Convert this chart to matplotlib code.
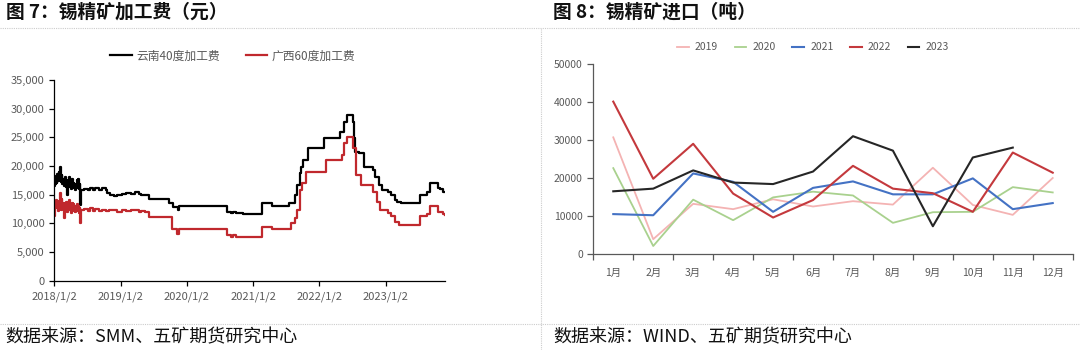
import matplotlib.pyplot as plt
import matplotlib.dates as mdates
from matplotlib.lines import Line2D
from matplotlib.ticker import FuncFormatter
import numpy as np
import pandas as pd

plt.rcParams['font.family'] = ['Noto Sans CJK SC', 'DejaVu Sans']

# 锡精矿加工费：云南40度 / 广西60度 (元/吨)，按变动日期记录
yn_dates = [
    '2018-01-02', '2018-01-05', '2018-01-09', '2018-01-12', '2018-01-16', '2018-01-19',
    '2018-01-23', '2018-01-26', '2018-01-30', '2018-02-02', '2018-02-06', '2018-02-09',
    '2018-02-13', '2018-02-16', '2018-02-23', '2018-02-27', '2018-03-02', '2018-03-06',
    '2018-03-09', '2018-03-13', '2018-03-16', '2018-03-20', '2018-03-23', '2018-03-27',
    '2018-03-30', '2018-04-03', '2018-04-10', '2018-04-13', '2018-04-17', '2018-04-20',
    '2018-04-24', '2018-04-27', '2018-05-04', '2018-05-08', '2018-05-11', '2018-05-15',
    '2018-05-18', '2018-05-22', '2018-05-25', '2018-05-29', '2018-06-15', '2018-07-06',
    '2018-07-20', '2018-08-03', '2018-08-17', '2018-09-07', '2018-09-21', '2018-10-12',
    '2018-10-19', '2018-11-05', '2018-11-29', '2018-12-14', '2019-01-11', '2019-02-01',
    '2019-03-01', '2019-03-22', '2019-04-12', '2019-04-26', '2019-06-10', '2019-09-27',
    '2019-10-20', '2019-11-14', '2019-11-22', '2020-08-11', '2020-09-01', '2020-09-15',
    '2020-09-29', '2020-11-07', '2021-02-21', '2021-04-17', '2021-07-17', '2021-08-19',
    '2021-09-02', '2021-09-20', '2021-09-24', '2021-10-05', '2021-10-30', '2022-01-30',
    '2022-04-28', '2022-05-19', '2022-06-06', '2022-07-05', '2022-07-12', '2022-07-19',
    '2022-08-11', '2022-09-05', '2022-10-23', '2022-11-06', '2022-11-25', '2022-12-16',
    '2023-01-16', '2023-02-03', '2023-02-21', '2023-03-07', '2023-03-28', '2023-07-09',
    '2023-08-18', '2023-09-06', '2023-10-16', '2023-10-30', '2023-11-14', '2023-11-24',
]
yn_vals = [
    16500, 17800, 16800, 18200, 17000, 18600, 17400, 19000, 17600, 19800, 18000, 17200,
    18400, 16900, 17800, 16600, 18000, 16400, 17600, 15000, 17400, 16300, 18000, 16600,
    17200, 16000, 17800, 16400, 17000, 16200, 16800, 15800, 16200, 17500, 16600, 17800,
    16000, 16900, 13200, 15800, 16000, 15800, 16100, 15900, 16100, 15900, 16200, 15900,
    15300, 15000, 14700, 14900, 15100, 15300, 15100, 15400, 15200, 15000, 14200, 13600,
    12800, 12300, 13000, 12000, 11800, 12000, 11800, 11700, 13500, 13000, 13500, 14900,
    16700, 18800, 19900, 21000, 23100, 24900, 26000, 27700, 28900, 27700, 24900, 22500,
    22200, 19900, 19300, 18100, 16700, 15800, 15400, 14900, 14100, 13700, 13600, 14900,
    15400, 17000, 16200, 16000, 15500, 15400,
]

gx_dates = [
    '2018-01-02', '2018-01-05', '2018-01-09', '2018-01-12', '2018-01-16', '2018-01-19',
    '2018-01-23', '2018-01-26', '2018-01-30', '2018-02-02', '2018-02-06', '2018-02-09',
    '2018-02-13', '2018-02-16', '2018-02-23', '2018-02-27', '2018-03-02', '2018-03-06',
    '2018-03-09', '2018-03-13', '2018-03-16', '2018-03-20', '2018-03-23', '2018-03-27',
    '2018-03-30', '2018-04-03', '2018-04-10', '2018-04-13', '2018-04-17', '2018-04-20',
    '2018-04-24', '2018-04-27', '2018-05-04', '2018-05-08', '2018-05-11', '2018-05-15',
    '2018-05-18', '2018-05-22', '2018-05-25', '2018-05-29', '2018-06-15', '2018-07-06',
    '2018-07-20', '2018-08-03', '2018-08-17', '2018-09-07', '2018-09-21', '2018-10-12',
    '2018-11-02', '2018-12-14', '2019-01-11', '2019-02-01', '2019-03-01', '2019-04-12',
    '2019-04-26', '2019-05-17', '2019-06-10', '2019-10-15', '2019-11-10', '2019-11-22',
    '2020-08-11', '2020-09-01', '2020-09-15', '2020-09-29', '2021-02-21', '2021-04-17',
    '2021-07-31', '2021-08-19', '2021-09-02', '2021-09-20', '2021-09-27', '2021-10-22',
    '2022-02-10', '2022-05-05', '2022-05-19', '2022-06-06', '2022-07-05', '2022-07-23',
    '2022-08-18', '2022-10-23', '2022-11-18', '2022-12-02', '2023-01-16', '2023-01-30',
    '2023-02-21', '2023-03-17', '2023-03-28', '2023-07-09', '2023-08-18', '2023-09-06',
    '2023-10-16', '2023-11-14', '2023-11-24',
]
gx_vals = [
    11300, 13800, 12600, 14000, 12800, 13200, 12200, 13900, 12500, 15300, 13000, 12400,
    14200, 12800, 13600, 11000, 13200, 12400, 13800, 12000, 13500, 12600, 14000, 12300,
    13200, 11800, 13600, 12500, 13400, 12200, 13000, 12000, 12600, 13300, 12200, 13000,
    11800, 12600, 10000, 12300, 12500, 12200, 12600, 12200, 12500, 12100, 12400, 12100,
    12300, 12000, 12400, 12100, 12300, 12000, 12200, 11900, 11100, 9000, 8200, 9000,
    8000, 7600, 8000, 7700, 9400, 9000, 10000, 10900, 12300, 15800, 17000, 19000,
    21000, 22000, 24100, 25100, 23100, 18400, 16700, 15500, 13800, 12300, 11800, 11200,
    10300, 9700, 9800, 11200, 11600, 13000, 12000, 11600, 11500,
]

# 锡精矿进口量 (吨)
months = ['1月', '2月', '3月', '4月', '5月', '6月', '7月', '8月', '9月', '10月', '11月', '12月']
imp_2019 = [30700, 3900, 13200, 11800, 14400, 12500, 13900, 13000, 22700, 12900, 10300, 20000]
imp_2020 = [22600, 2100, 14300, 8900, 14900, 16400, 15400, 8200, 11000, 11100, 17600, 16200]
imp_2021 = [10500, 10200, 21200, 19000, 11100, 17400, 19100, 15700, 15700, 19900, 11800, 13400]
imp_2022 = [40100, 19800, 29000, 15900, 9600, 14200, 23200, 17200, 16000, 11100, 26700, 21400]
imp_2023 = [16500, 17200, 22000, 18800, 18400, 21700, 31000, 27200, 7300, 25400, 28000]

gray = '#595959'
fig = plt.figure(figsize=(10.8, 3.5), dpi=100)

# 标题、分隔线、数据来源
fig.text(0.006, 0.965, '图 7：锡精矿加工费（元）', fontsize=13.5, fontweight='bold',
         va='center', ha='left', color='#111111')
fig.text(0.512, 0.965, '图 8：锡精矿进口（吨）', fontsize=13.5, fontweight='bold',
         va='center', ha='left', color='#111111')
fig.text(0.005, 0.037, '数据来源：SMM、五矿期货研究中心', fontsize=13,
         va='center', ha='left', color='#111111')
fig.text(0.512, 0.037, '数据来源：WIND、五矿期货研究中心', fontsize=13,
         va='center', ha='left', color='#111111')
for y in (1 - 27.5 / 350, 1 - 324 / 350):
    fig.add_artist(Line2D([0, 1], [y, y], transform=fig.transFigure, color='#cccccc',
                          lw=0.8, ls=(0, (1, 1))))
fig.add_artist(Line2D([541 / 1080, 541 / 1080], [0, 1 - 27.5 / 350], transform=fig.transFigure,
                      color='#cccccc', lw=0.8, ls=(0, (1, 1))))

# 左图：加工费
ax1 = fig.add_axes([54.3 / 1080, 1 - 280.7 / 350, (445 - 54.3) / 1080, (280.7 - 80) / 350])
ax1.plot(pd.to_datetime(yn_dates), yn_vals, drawstyle='steps-post', color='#000000', lw=1.6,
         label='云南40度加工费')
ax1.plot(pd.to_datetime(gx_dates), gx_vals, drawstyle='steps-post', color='#c0282d', lw=1.6,
         label='广西60度加工费')
ax1.set_ylim(0, 35000)
ax1.set_yticks(np.arange(0, 35001, 5000))
ax1.yaxis.set_major_formatter(FuncFormatter(lambda v, p: f'{int(v):,}'))
ax1.set_xlim(pd.Timestamp('2018-01-02'), pd.Timestamp('2023-11-26'))
ax1.set_xticks(pd.to_datetime(['2018-01-02', '2019-01-02', '2020-01-02', '2021-01-02',
                               '2022-01-02', '2023-01-02']))
ax1.xaxis.set_major_formatter(FuncFormatter(
    lambda v, p: '{0.year}/{0.month}/{0.day}'.format(mdates.num2date(v))))
for s in ('top', 'right'):
    ax1.spines[s].set_visible(False)
for s in ('left', 'bottom'):
    ax1.spines[s].set_color('#000000')
    ax1.spines[s].set_linewidth(0.9)
ax1.tick_params(axis='both', labelsize=8, colors='#000000', labelcolor=gray, length=3.5, width=0.9)
ax1.tick_params(axis='x', pad=4)
ax1.legend(loc='center', bbox_to_anchor=(233 / 1080, 1 - 56 / 350), bbox_transform=fig.transFigure,
           ncol=2, frameon=False, fontsize=8.5, handlelength=1.8, columnspacing=2.2,
           handletextpad=0.4, labelcolor=gray)

# 右图：进口量
ax2 = fig.add_axes([593.3 / 1080, 1 - 254 / 350, (1072.7 - 593.3) / 1080, (254 - 64) / 350])
x = np.arange(len(months))
series = [
    ('2019', imp_2019, '#f4b3b3', 1.3),
    ('2020', imp_2020, '#a9d18e', 1.3),
    ('2021', imp_2021, '#4472c4', 1.5),
    ('2022', imp_2022, '#c4393d', 1.5),
    ('2023', imp_2023, '#262626', 1.5),
]
for name, vals, c, lw in series:
    ax2.plot(x[:len(vals)], vals, color=c, lw=lw, label=name)
ax2.set_xlim(-0.5, 11.5)
ax2.set_ylim(0, 50000)
ax2.set_yticks(np.arange(0, 50001, 10000))
ax2.set_xticks(np.arange(-0.5, 12, 1))
ax2.set_xticklabels([])
ax2.set_xticks(x, months, minor=True)
ax2.tick_params(axis='x', which='minor', length=0, pad=10, labelsize=7.5, labelcolor=gray)
ax2.tick_params(axis='x', which='major', length=4, width=0.9, colors=gray)
ax2.tick_params(axis='y', length=4, width=0.9, colors=gray, labelsize=7.5, labelcolor=gray)
for s in ('top', 'right'):
    ax2.spines[s].set_visible(False)
for s in ('left', 'bottom'):
    ax2.spines[s].set_color(gray)
    ax2.spines[s].set_linewidth(0.9)
ax2.legend(loc='center', bbox_to_anchor=(813 / 1080, 1 - 47.5 / 350), bbox_transform=fig.transFigure,
           ncol=5, frameon=False, fontsize=7.5, handlelength=1.1, columnspacing=1.6,
           handletextpad=0.6, labelcolor=gray)

fig.savefig('out.png', dpi=100)
